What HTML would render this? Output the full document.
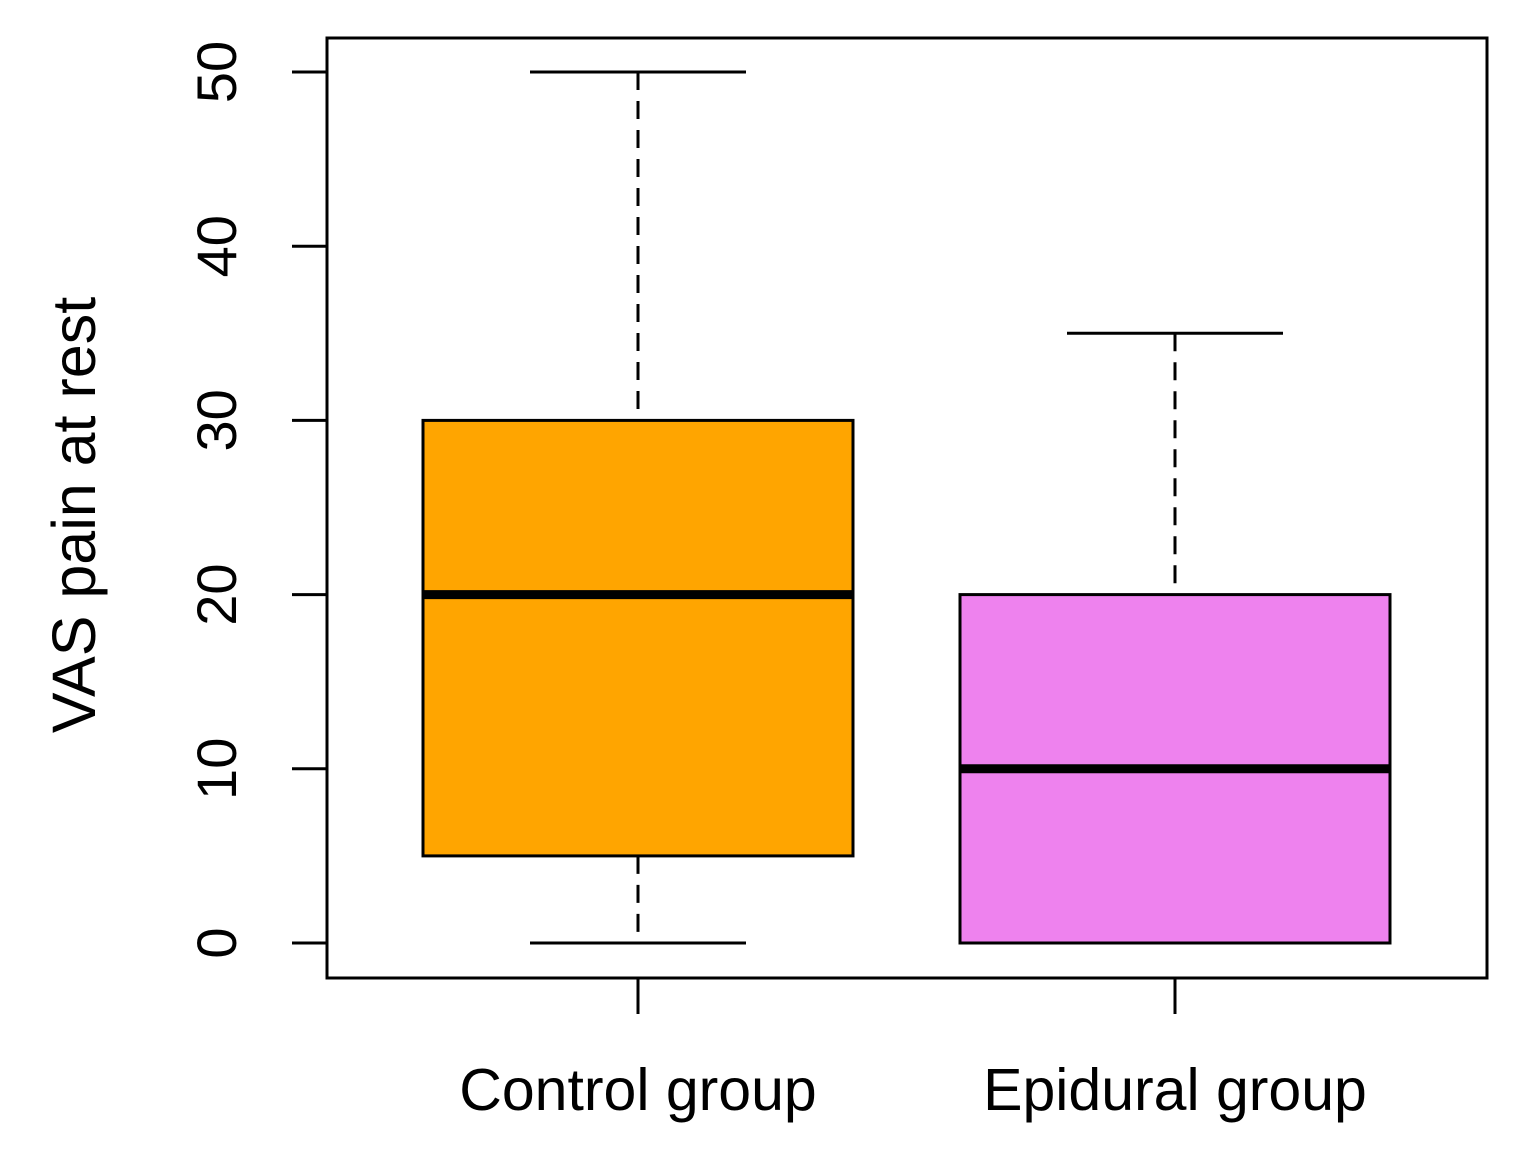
<!DOCTYPE html>
<html><head><meta charset="utf-8"><style>
html,body{margin:0;padding:0;background:#fff;}
svg{display:block;font-family:"Liberation Sans",Arial,sans-serif;}
</style></head><body>
<svg id="chart" width="1515" height="1161" viewBox="0 0 1515 1161">
<rect x="327" y="38" width="1160" height="940" fill="none" stroke="#000" stroke-width="3"/>
<g id="yaxis"></g>
<g id="boxes"></g>
<g id="xaxis"></g>
<text transform="translate(95,515) rotate(-90)" text-anchor="middle" font-size="61" fill="#000">VAS pain at rest</text>
</svg>
<script>
const categories = ["Control group", "Epidural group"];
const mins = [0, 0];
const q1s = [5, 0];
const medians = [20, 10];
const q3s = [30, 20];
const maxs = [50, 35];
const colors = ["#FFA500", "#EE82EE"];
const yTicks = [0, 10, 20, 30, 40, 50];

const NS = "http://www.w3.org/2000/svg";
const y = v => 943 - v * (943 - 72) / 50;
const x = i => 638 + i * 537;
function mk(tag, attrs, parent, text) {
  const el = document.createElementNS(NS, tag);
  for (const k in attrs) el.setAttribute(k, attrs[k]);
  if (text !== undefined) el.textContent = text;
  parent.appendChild(el);
  return el;
}
const ya = document.getElementById('yaxis');
yTicks.forEach(t => {
  const ln = mk('line', {x1: 292, x2: 327, y1: y(t), y2: y(t), stroke: '#000', 'stroke-width': 3}, ya);
  
  
  const tx = mk('text', {transform: `translate(236,${y(t)}) rotate(-90)`, 'text-anchor': 'middle', 'font-size': 56, fill: '#000'}, ya, String(t));
  
  
});
const bx = document.getElementById('boxes');
const xa = document.getElementById('xaxis');
const halfW = 215, capW = 108;
categories.forEach((c, i) => {
  const cx = x(i);
  const g = mk('g', {}, bx);
  
  
  mk('line', {x1: cx, x2: cx, y1: y(maxs[i]), y2: y(q3s[i]), stroke: '#000', 'stroke-width': 3, 'stroke-dasharray': '18,11'}, g);
  if (q1s[i] > mins[i]) mk('line', {x1: cx, x2: cx, y1: y(q1s[i]), y2: y(mins[i]), stroke: '#000', 'stroke-width': 3, 'stroke-dasharray': '18,11'}, g);
  mk('line', {x1: cx - capW, x2: cx + capW, y1: y(maxs[i]), y2: y(maxs[i]), stroke: '#000', 'stroke-width': 3}, g);
  mk('line', {x1: cx - capW, x2: cx + capW, y1: y(mins[i]), y2: y(mins[i]), stroke: '#000', 'stroke-width': 3}, g);
  mk('rect', {x: cx - halfW, y: y(q3s[i]), width: halfW * 2, height: y(q1s[i]) - y(q3s[i]), fill: colors[i], stroke: '#000', 'stroke-width': 3}, g);
  mk('line', {x1: cx - halfW, x2: cx + halfW, y1: y(medians[i]), y2: y(medians[i]), stroke: '#000', 'stroke-width': 9}, g);
  const tk = mk('line', {x1: cx, x2: cx, y1: 978, y2: 1014, stroke: '#000', 'stroke-width': 3}, xa);
  
  
  const lb = mk('text', {x: cx, y: 1110, 'text-anchor': 'middle', 'font-size': 59, fill: '#000'}, xa, c);
  
  
});
</script>
</body></html>
